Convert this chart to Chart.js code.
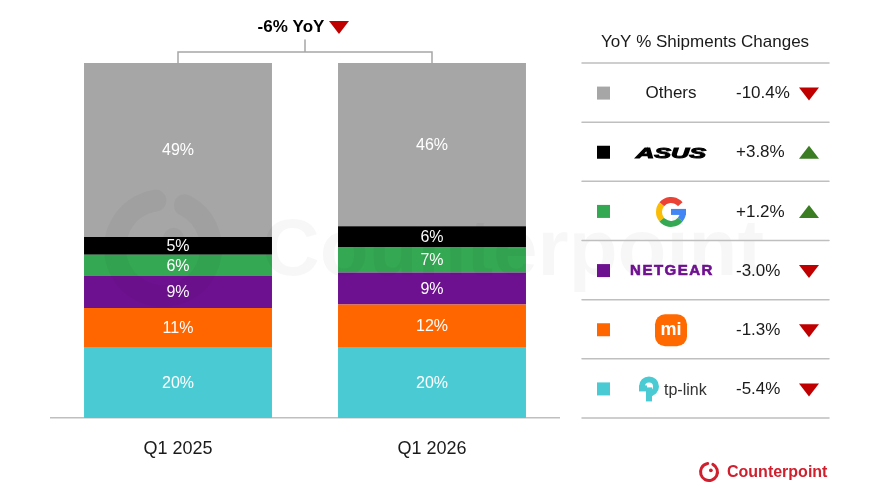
<!DOCTYPE html>
<html>
<head>
<meta charset="utf-8">
<script src="https://cdn.jsdelivr.net/npm/chart.js@4.4.1/dist/chart.umd.min.js"></script>
<style>
  html, body { margin: 0; padding: 0; background: #fff; }
  canvas { display: block; }
</style>
</head>
<body>
<canvas id="shareChart" width="880" height="488"></canvas>
<script>
// data (share of shipments, %)
const quarters = ['Q1 2025', 'Q1 2026'];
const brands = ['tp-link', 'Xiaomi', 'NETGEAR', 'Google', 'ASUS', 'Others'];
const tplinkShare = [20, 20];
const xiaomiShare = [11, 12];
const netgearShare = [9, 9];
const googleShare = [6, 7];
const asusShare = [5, 6];
const othersShare = [49, 46];
const yoyChange = [-5.4, -1.3, -3.0, 1.2, 3.8, -10.4];
const totalYoy = -6;

const colors = ['#4ACBD3', '#FF6600', '#6E1190', '#34A853', '#000000', '#A6A6A6'];
const FONT = '"Liberation Sans", Arial, sans-serif';
const RED = '#C00000';
const GREEN = '#3B7D23';

function triangle(ctx, x, y, up, color) {
    ctx.fillStyle = color;
    ctx.beginPath();
    if (up) {
        ctx.moveTo(x - 10, y + 6);
        ctx.lineTo(x + 10, y + 6);
        ctx.lineTo(x, y - 7);
    } else {
        ctx.moveTo(x - 10, y - 6);
        ctx.lineTo(x + 10, y - 6);
        ctx.lineTo(x, y + 7);
    }
    ctx.closePath();
    ctx.fill();
}

function counterpointIcon(ctx, x, y, r, lw, color) {
    ctx.strokeStyle = color;
    ctx.fillStyle = color;
    ctx.lineWidth = lw;
    ctx.lineCap = 'round';
    ctx.beginPath();
    ctx.arc(x, y, r, -Math.PI * 0.35, Math.PI * 1.45);
    ctx.stroke();
    ctx.beginPath();
    ctx.arc(x + r * 0.22, y - r * 0.2, r * 0.22, 0, Math.PI * 2);
    ctx.fill();
}

// brand logos drawn roughly with canvas
const logos = {
    'Others': function (ctx, x, y) {
        ctx.fillStyle = '#1a1a1a';
        ctx.font = '17px ' + FONT;
        ctx.textAlign = 'center';
        ctx.fillText('Others', x, y);
    },
    'ASUS': function (ctx, x, y) {
        ctx.save();
        ctx.translate(x, y);
        ctx.scale(1.4, 0.85);
        ctx.fillStyle = '#000';
        ctx.strokeStyle = '#000';
        ctx.lineWidth = 1.2;
        ctx.font = 'italic bold 18px ' + FONT;
        ctx.textAlign = 'center';
        ctx.fillText('ASUS', 0, 1);
        ctx.strokeText('ASUS', 0, 1);
        ctx.restore();
    },
    'Google': function (ctx, x, y) {
        const r = 12, lw = 6;
        ctx.lineWidth = lw;
        ctx.lineCap = 'butt';
        const arcs = [
            ['#EA4335', -Math.PI * 0.78, -Math.PI * 0.22],
            ['#FBBC05', Math.PI * 0.78, Math.PI * 1.22],
            ['#34A853', Math.PI * 0.22, Math.PI * 0.78],
            ['#4285F4', 0, Math.PI * 0.22]
        ];
        arcs.forEach(function (a) {
            ctx.strokeStyle = a[0];
            ctx.beginPath();
            ctx.arc(x, y, r, a[1], a[2]);
            ctx.stroke();
        });
        ctx.fillStyle = '#4285F4';
        ctx.fillRect(x, y - 3, r + lw / 2, 6);
    },
    'NETGEAR': function (ctx, x, y) {
        ctx.fillStyle = '#6E1190';
        ctx.strokeStyle = '#6E1190';
        ctx.lineWidth = 0.6;
        ctx.font = 'bold 15px ' + FONT;
        ctx.textAlign = 'center';
        ctx.letterSpacing = '1.5px';
        ctx.fillText('NETGEAR', x + 1, y);
        ctx.strokeText('NETGEAR', x + 1, y);
        ctx.letterSpacing = '0px';
    },
    'Xiaomi': function (ctx, x, y) {
        ctx.fillStyle = '#FF6900';
        ctx.beginPath();
        ctx.roundRect(x - 16, y - 16, 32, 32, 10);
        ctx.fill();
        ctx.fillStyle = '#fff';
        ctx.font = 'bold 18px ' + FONT;
        ctx.textAlign = 'center';
        ctx.fillText('mi', x, y);
    },
    'tp-link': function (ctx, x, y) {
        ctx.strokeStyle = '#4ACBD3';
        ctx.fillStyle = '#4ACBD3';
        ctx.lineWidth = 6;
        ctx.lineCap = 'butt';
        ctx.beginPath();
        ctx.arc(x - 22, y - 3, 7, Math.PI, Math.PI * 2.6);
        ctx.stroke();
        ctx.fillRect(x - 32, y - 4, 8, 6);
        ctx.fillRect(x - 25, y - 2, 6, 14);
        ctx.fillStyle = '#333';
        ctx.font = '16px ' + FONT;
        ctx.textAlign = 'left';
        ctx.fillText('tp-link', x - 7, y + 1);
    }
};

const labelsPlugin = {
    id: 'segmentLabels',
    afterDatasetsDraw(chart) {
        const ctx = chart.ctx;
        ctx.save();
        ctx.fillStyle = '#fff';
        ctx.font = '16px ' + FONT;
        ctx.textAlign = 'center';
        ctx.textBaseline = 'middle';
        chart.data.datasets.forEach(function (ds, i) {
            chart.getDatasetMeta(i).data.forEach(function (bar, j) {
                ctx.fillText(ds.data[j] + '%', bar.x, (bar.y + bar.base) / 2 + 1);
            });
        });
        ctx.restore();
    }
};

const decorPlugin = {
    id: 'decor',
    afterDraw(chart) {
        const ctx = chart.ctx;
        const area = chart.chartArea;
        ctx.save();

        // faint watermark
        ctx.globalAlpha = 0.03;
        counterpointIcon(ctx, 163, 248, 48, 22, '#000');
        ctx.fillStyle = '#000';
        ctx.font = 'bold 80px ' + FONT;
        ctx.textAlign = 'left';
        ctx.textBaseline = 'alphabetic';
        ctx.fillText('Counterpoint', 262, 275);
        ctx.globalAlpha = 1;

        // bracket above bars with total change
        const topBars = chart.getDatasetMeta(chart.data.datasets.length - 1).data;
        const x1 = topBars[0].x, x2 = topBars[1].x;
        const barTop = Math.min(topBars[0].y, topBars[1].y);
        const by = barTop - 11;
        const mid = (x1 + x2) / 2;
        ctx.strokeStyle = '#A6A6A6';
        ctx.lineWidth = 1.5;
        ctx.beginPath();
        ctx.moveTo(x1, topBars[0].y);
        ctx.lineTo(x1, by);
        ctx.lineTo(x2, by);
        ctx.lineTo(x2, topBars[1].y);
        ctx.moveTo(mid, by);
        ctx.lineTo(mid, by - 12);
        ctx.stroke();

        ctx.fillStyle = '#000';
        ctx.font = 'bold 17px ' + FONT;
        ctx.textAlign = 'center';
        ctx.textBaseline = 'middle';
        ctx.fillText(totalYoy + '% YoY', mid - 14, 27);
        triangle(ctx, mid + 34, 27, totalYoy > 0, totalYoy > 0 ? GREEN : RED);

        // right side table
        const left = 582, right = 829;
        ctx.fillStyle = '#1a1a1a';
        ctx.font = '17px ' + FONT;
        ctx.textAlign = 'center';
        ctx.fillText('YoY % Shipments Changes', 705, 42);

        const rows = brands.length;
        const step = (area.bottom - area.top) / rows;
        ctx.strokeStyle = '#BFBFBF';
        ctx.lineWidth = 1.5;
        for (let i = 0; i <= rows; i++) {
            const ly = area.top + i * step;
            ctx.beginPath();
            ctx.moveTo(left, ly);
            ctx.lineTo(right, ly);
            ctx.stroke();
        }

        for (let r = 0; r < rows; r++) {
            const k = rows - 1 - r;
            const cy = area.top + (r + 0.5) * step;
            ctx.fillStyle = colors[k];
            ctx.fillRect(597, cy - 6, 13, 13);

            ctx.textBaseline = 'middle';
            logos[brands[k]](ctx, 671, cy + 1);

            const v = yoyChange[k];
            ctx.fillStyle = '#1a1a1a';
            ctx.font = '17px ' + FONT;
            ctx.textAlign = 'left';
            ctx.textBaseline = 'middle';
            ctx.fillText((v > 0 ? '+' : '') + v.toFixed(1) + '%', 736, cy + 1);
            triangle(ctx, 809, cy + 1, v > 0, v > 0 ? GREEN : RED);
        }

        // corner logo
        counterpointIcon(ctx, 709, 472, 8.5, 3, '#D0202E');
        ctx.fillStyle = '#D0202E';
        ctx.font = 'bold 16px ' + FONT;
        ctx.textAlign = 'left';
        ctx.textBaseline = 'middle';
        ctx.fillText('Counterpoint', 727, 473);

        ctx.restore();
    }
};

const seriesData = [tplinkShare, xiaomiShare, netgearShare, googleShare, asusShare, othersShare];

const ctx = document.getElementById('shareChart').getContext('2d');
const shareChart = new Chart(ctx, {
    type: 'bar',
    data: {
        labels: quarters,
        datasets: brands.map(function (b, i) {
            return {
                label: b,
                data: seriesData[i],
                backgroundColor: colors[i],
                borderWidth: 0,
                categoryPercentage: 1,
                barPercentage: 0.74
            };
        })
    },
    options: {
        responsive: false,
        animation: false,
        layout: { padding: { top: 63, left: 51, right: 321, bottom: 0 } },
        plugins: {
            legend: { display: false },
            tooltip: { enabled: false }
        },
        scales: {
            x: {
                stacked: true,
                grid: { display: false },
                border: { color: '#BFBFBF', width: 1.5 },
                ticks: {
                    color: '#1a1a1a',
                    font: { family: FONT, size: 18 },
                    padding: 12
                },
                afterFit: function (scale) { scale.height = 70; }
            },
            y: {
                stacked: true,
                display: false,
                min: 0,
                max: 100
            }
        }
    },
    plugins: [labelsPlugin, decorPlugin]
});
</script>
</body>
</html>
